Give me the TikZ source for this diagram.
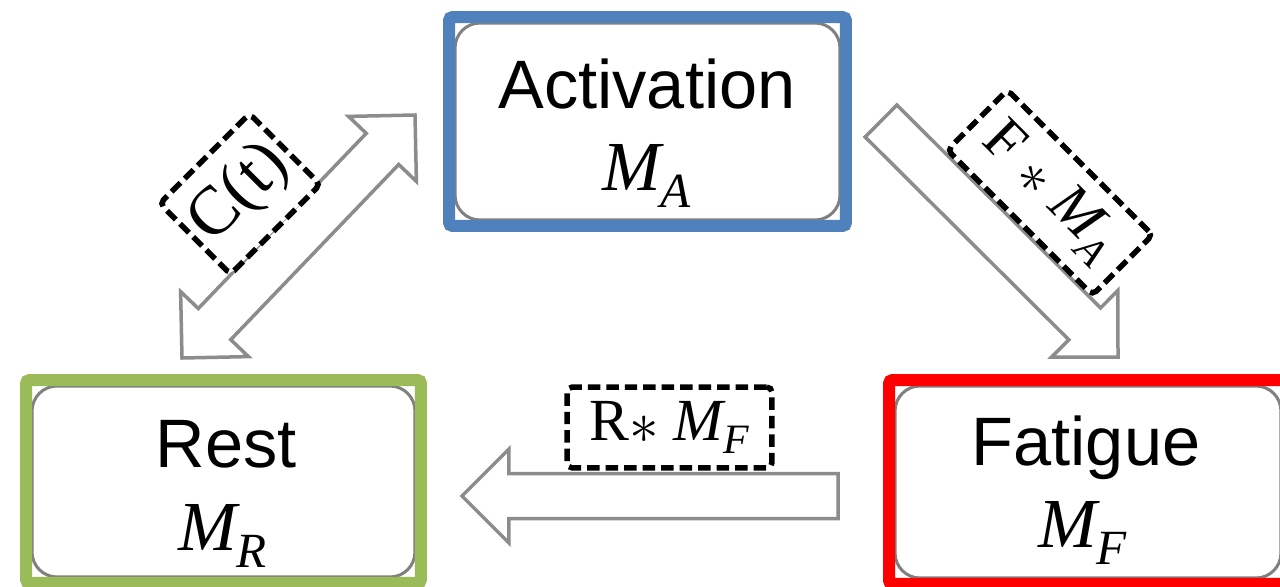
\documentclass[tikz,border=0pt]{standalone}
\usepackage{fontspec}
\usepackage{amsmath}
\usepackage{graphicx}
\setmainfont{Liberation Sans}
\newfontfamily\cambriafont{Liberation Serif}
\usetikzlibrary{calc}
\newcommand\mvar[2]{\ensuremath{\text{\cambriafont\itshape #1}_{\text{\cambriafont\itshape #2}}}}
\newcommand\bigast{\raisebox{-0.05em}{\scalebox{1.35}{$\ast$}}}
\definecolor{actblue}{RGB}{79,129,189}
\definecolor{restgreen}{RGB}{155,187,89}
\definecolor{fatred}{RGB}{255,0,0}
\definecolor{arrowgray}{RGB}{140,140,140}
\definecolor{boxgray}{RGB}{128,128,128}
\tikzset{
 statebox/.style={draw=boxgray, line width=0.06cm, rounded corners=0.5cm, fill=white, inner sep=0, outer sep=0},
 colframe/.style={line width=0.24cm, rounded corners=2pt},
 lbl/.style={font=\fontsize{39}{47}\selectfont, inner sep=0},
 mlbl/.style={font=\fontsize{40}{48}\selectfont, inner sep=0},
 ratebox/.style={draw=black, fill=white, line width=0.11cm, dash pattern=on 0.25cm off 0.12cm, rounded corners=3pt, inner sep=0, font=\fontsize{34}{40}\selectfont},
 blk/.style={draw=arrowgray, fill=white, line width=0.07cm, line join=miter},
}
\newcommand\singlearrow[2]{%
  \path ($(#2)!0.94cm!(#1)$) coordinate (hb);
  \draw[blk] ($(#1)!0.45cm!90:(#2)$) -- ($(hb)!0.45cm!90:(#2)$) -- ($(hb)!0.94cm!90:(#2)$) -- (#2)
    -- ($(hb)!0.94cm!-90:(#2)$) -- ($(hb)!0.45cm!-90:(#2)$) -- ($(#1)!0.45cm!-90:(#2)$) -- cycle;}
\newcommand\doublearrow[2]{%
  \path ($(#2)!0.94cm!(#1)$) coordinate (hbA);
  \path ($(#1)!0.94cm!(#2)$) coordinate (hbB);
  \draw[blk] ($(hbB)!0.45cm!90:(#2)$) -- ($(hbA)!0.45cm!90:(#2)$) -- ($(hbA)!0.94cm!90:(#2)$) -- (#2)
    -- ($(hbA)!0.94cm!-90:(#2)$) -- ($(hbA)!0.45cm!-90:(#2)$) -- ($(hbB)!0.45cm!-90:(#2)$)
    -- ($(hbB)!0.94cm!-90:(#2)$) -- (#1) -- ($(hbB)!0.94cm!90:(#2)$) -- cycle;}
\begin{document}
\begin{tikzpicture}[x=0.02cm, y=0.02cm]
\clip (0,0) rectangle (1280,586);
\fill[white] (0,0) rectangle (1280,586);
% state boxes
\node[statebox, minimum width=7.7cm, minimum height=3.94cm] (act) at (647.5,464.5) {};
\node[statebox, minimum width=7.66cm, minimum height=3.82cm] (rest) at (223.5,104.5) {};
\node[statebox, minimum width=7.72cm, minimum height=3.84cm] (fat) at (1088,104) {};
\draw[colframe, actblue] ($(act.south west)+(-6,-6)$) rectangle ($(act.north east)+(6,6)$);
\draw[colframe, restgreen] ($(rest.south west)+(-6,-6)$) rectangle ($(rest.north east)+(6,6)$);
\draw[colframe, fatred] ($(fat.south west)+(-6,-6)$) rectangle ($(fat.north east)+(6,6)$);
% labels
\node[lbl, anchor=base] (actT) at (647,478) {Activation};
\node[mlbl, anchor=base] (actM) at (647,396) {\mvar{M}{A}};
\node[lbl, anchor=base] (restT) at (226,119) {Rest};
\node[mlbl, anchor=base] (restM) at (223,36) {\mvar{M}{R}};
\node[lbl, anchor=base] (fatT) at (1086,121) {Fatigue};
\node[mlbl, anchor=base] (fatM) at (1083,39) {\mvar{M}{F}};
% block arrows
\coordinate (bTail) at (838,90);
\coordinate (bTip) at (462,90);
\coordinate (dA) at (182,228);
\coordinate (dB) at (415,471);
\coordinate (rTail) at (881,465);
\coordinate (rTip) at (1118,229);
\singlearrow{bTail}{bTip}
\doublearrow{dA}{dB}
\singlearrow{rTail}{rTip}
% rate boxes
\node[ratebox, minimum width=4.1cm, minimum height=1.62cm] (rr) at (669.5,158.5) {{\cambriafont R}\bigast\hspace{0.25em}\mvar{M}{F}};
\node[ratebox, rotate=45, minimum width=2.54cm, minimum height=2cm, font=\cambriafont\fontsize{39}{44}\selectfont] (ct) at (240,392) {C(t)};
\node[ratebox, rotate=-45, minimum width=4.1cm, minimum height=1.7cm] (fm) at (1050,393.5) {{\cambriafont F}\hspace{0.25em}\bigast\hspace{0.25em}\mvar{M}{A}};
\end{tikzpicture}
\end{document}
